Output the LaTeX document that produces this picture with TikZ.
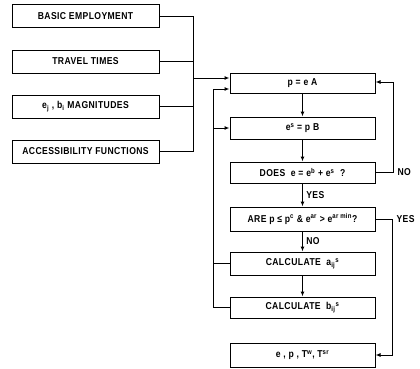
\documentclass[tikz,border=0pt]{standalone}
\usepackage{fontspec}
\setmainfont{Liberation Sans}[FakeStretch=0.86,LetterSpace=4]
\usetikzlibrary{arrows.meta}

\begin{document}
\begin{tikzpicture}[x=1pt,y=-1pt,>={Latex[length=5pt,width=4pt]},line width=1pt,
  font=\fontsize{10}{11}\selectfont\bfseries]
  \useasboundingbox (0,0) rectangle (420,368);
  \node[draw,minimum width=147pt,minimum height=23pt] (basic) at (85.5,16) {BASIC EMPLOYMENT};
  \node[draw,minimum width=147pt,minimum height=23pt] (travel) at (85.5,61.5) {TRAVEL TIMES};
  \node[draw,minimum width=147pt,minimum height=23pt] (magn) at (85.5,106.5) {e\textsubscript{j} , b\textsubscript{i} MAGNITUDES};
  \node[draw,minimum width=147pt,minimum height=23pt,inner sep=1pt] (access) at (85.5,151.5) {ACCESSIBILITY FUNCTIONS};
  \coordinate (bus) at (193,78);
  \draw (basic.east) -| (bus);
  \draw (travel.east) -| (bus);
  \draw (magn.east) -| (bus);
  \draw (access.east) -| (bus);
  \node[draw,minimum width=145pt,minimum height=20pt] (pop) at (302.5,83) {p = e A};
  \node[draw,minimum width=145pt,minimum height=22pt] (serv) at (302.5,128) {e\textsuperscript{s} = p B};
  \node[draw,minimum width=145pt,minimum height=21pt] (does) at (302.5,172.5) {DOES \ e = e\textsuperscript{b} + e\textsuperscript{s} \ ?};
  \node[draw,minimum width=145pt,minimum height=24pt,inner sep=1pt] (are) at (302.5,219) {ARE p ≤ p\textsuperscript{c} \& e\textsuperscript{ar} > e\textsuperscript{ar min}?};
  \node[draw,minimum width=145pt,minimum height=23pt] (calca) at (302.5,263.5) {CALCULATE \ a\textsubscript{ij}\textsuperscript{s}};
  \node[draw,minimum width=145pt,minimum height=21pt] (calcb) at (302.5,307.5) {CALCULATE \ b\textsubscript{ij}\textsuperscript{s}};
  \node[draw,minimum width=145pt,minimum height=24pt] (out) at (302.5,355) {e , p , T\textsuperscript{w}, T\textsuperscript{sr}};
  \draw[->] (bus) -- (bus -| pop.west);
  \draw[->] (pop) -- (serv);
  \draw[->] (serv) -- (does);
  \draw[->] (does) -- node[right] {YES} (are);
  \draw[->] (are) -- node[right] {NO} (calca);
  \draw[->] (calca) -- (calcb);
  \coordinate (loop) at (213,89);
  \draw[->] (calcb.west) -| (loop) -- (loop -| pop.west);
  \draw (calca.west) -- (calca.west -| loop);
  \draw[->] (serv.west -| loop) -- (serv.west);
  \coordinate (noturn) at (393,82);
  \draw[->] (does.east) -| (noturn) -- (noturn -| pop.east);
  \node[anchor=west,inner sep=1pt] (no) at (396,172.5) {NO};
  \coordinate (yesturn) at (392,355);
  \draw[->] (are.east) -| (yesturn) -- (yesturn -| out.east);
  \node[anchor=west,inner sep=1pt] (yes) at (395,219) {YES};
\end{tikzpicture}
\end{document}
